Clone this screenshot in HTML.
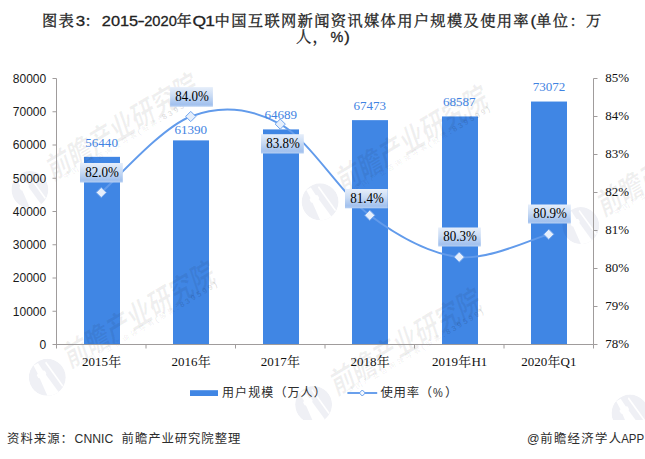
<!DOCTYPE html>
<html lang="zh-CN">
<head>
<meta charset="utf-8">
<title>图表3：2015-2020年Q1中国互联网新闻资讯媒体用户规模及使用率(单位：万人，%)</title>
<style>
html,body{margin:0;padding:0;background:#fff;}
body{width:645px;height:459px;overflow:hidden;font-family:"Liberation Sans",sans-serif;}
svg{display:block;}
</style>
</head>
<body>
<svg width="645" height="459" viewBox="0 0 645 459">
<defs>
<clipPath id="wmclip"><rect x="0" y="0" width="645" height="420"/></clipPath>
<linearGradient id="lb" x1="0" y1="0" x2="0" y2="1"><stop offset="0" stop-color="#e6eefa"/><stop offset="0.45" stop-color="#c9dbf4"/><stop offset="0.88" stop-color="#a2c1ee"/><stop offset="1" stop-color="#b6cff2"/></linearGradient>
<clipPath id="lc"><circle cx="-23.7" cy="13.3" r="18.5"/></clipPath>
<g id="wm"><path d="M-42.2 13.3 a18.5 18.5 0 1 0 37 0 a18.5 18.5 0 1 0 -37 0zM-37.5 1.6L-33.0 -1.0L-28.1 6.6L-26.2 6.7L-24.7 9.3L-25.1 10.7L-10.9 30.1L-21.6 36.3L-31.3 14.3L-32.7 13.9L-34.2 11.3L-33.3 9.6zM-25.9 -1.0L-24.9 -2.4L-7.7 21.4L-8.8 22.7z" fill="#1c2f75" fill-opacity="0.07" fill-rule="evenodd" clip-path="url(#lc)"/><g transform="rotate(-31)" fill="#000"><text x="4" y="0" font-family="'Liberation Sans', 'Noto Sans CJK SC', sans-serif" font-size="24.5" font-weight="bold" fill-opacity="0.058" transform="translate(-7.5 3.1) skewX(-12) scale(1 1.2)">前瞻产业研究院</text><g transform="translate(7.7 8.7)" fill-opacity="0.075"><text x="0.4" y="0" font-family="'Liberation Sans', 'Noto Sans CJK SC', sans-serif" font-size="7.2" letter-spacing="2.5">中国产业咨询领导者</text><text x="92.3" y="0" font-family="'Liberation Sans', 'Noto Sans CJK SC', sans-serif" font-size="7.2" letter-spacing="2.5">股票</text><text x="87" y="0" font-family="'Liberation Sans', sans-serif" font-size="7.5" fill-opacity="0.12">(</text><text x="111" y="0" font-family="'Liberation Sans', sans-serif" font-size="7.8" font-weight="bold" letter-spacing="2.3" fill-opacity="0.12">:839599)</text></g></g></g>
</defs>
<rect width="645" height="459" fill="#fff"/>
<g fill="#4086e4"><rect x="84" y="156.84" width="36" height="187.66"/><rect x="173" y="140.38" width="36" height="204.12"/><rect x="263" y="129.41" width="36" height="215.09"/><rect x="352" y="120.15" width="36" height="224.35"/><rect x="442" y="116.45" width="36" height="228.05"/><rect x="531" y="101.54" width="36" height="242.96"/></g>
<g clip-path="url(#wmclip)"><use href="#wm" x="53.6" y="176.3"/><use href="#wm" x="343.8" y="188.5"/><use href="#wm" x="71" y="364"/><use href="#wm" x="337.3" y="391.3"/><use href="#wm" x="604.5" y="212.3"/><use href="#wm" x="653.7" y="399.7"/></g>
<g stroke="#a09c9c" stroke-width="1" fill="none"><path d="M56.5 78.5 V348.5"/><path d="M52.5 344.5 H593.5"/><path d="M593.5 78.5 V344.5"/><path d="M52.5 78.50 h4M52.5 111.75 h4M52.5 145.00 h4M52.5 178.25 h4M52.5 211.50 h4M52.5 244.75 h4M52.5 278.00 h4M52.5 311.25 h4M593.5 78.50 h4M593.5 116.50 h4M593.5 154.50 h4M593.5 192.50 h4M593.5 230.50 h4M593.5 268.50 h4M593.5 306.50 h4M593.5 344.50 h4M146.00 344.5 v4M235.50 344.5 v4M325.00 344.5 v4M414.50 344.5 v4M504.00 344.5 v4M593.50 344.5 v4"/></g>
<g font-family="'Liberation Sans', sans-serif" font-size="12" fill="#1a1a1a" text-anchor="end"><text x="46.2" y="82.80" textLength="33.4" lengthAdjust="spacingAndGlyphs">80000</text><text x="46.2" y="116.05" textLength="33.4" lengthAdjust="spacingAndGlyphs">70000</text><text x="46.2" y="149.30" textLength="33.4" lengthAdjust="spacingAndGlyphs">60000</text><text x="46.2" y="182.55" textLength="33.4" lengthAdjust="spacingAndGlyphs">50000</text><text x="46.2" y="215.80" textLength="33.4" lengthAdjust="spacingAndGlyphs">40000</text><text x="46.2" y="249.05" textLength="33.4" lengthAdjust="spacingAndGlyphs">30000</text><text x="46.2" y="282.30" textLength="33.4" lengthAdjust="spacingAndGlyphs">20000</text><text x="46.2" y="315.55" textLength="33.4" lengthAdjust="spacingAndGlyphs">10000</text><text x="46.2" y="348.80">0</text></g>
<g font-family="'Liberation Serif', serif" font-size="13" fill="#111"><text x="605.3" y="82.40" textLength="23.8" lengthAdjust="spacingAndGlyphs">85%</text><text x="605.3" y="120.40" textLength="23.8" lengthAdjust="spacingAndGlyphs">84%</text><text x="605.3" y="158.40" textLength="23.8" lengthAdjust="spacingAndGlyphs">83%</text><text x="605.3" y="196.40" textLength="23.8" lengthAdjust="spacingAndGlyphs">82%</text><text x="605.3" y="234.40" textLength="23.8" lengthAdjust="spacingAndGlyphs">81%</text><text x="605.3" y="272.40" textLength="23.8" lengthAdjust="spacingAndGlyphs">80%</text><text x="605.3" y="310.40" textLength="23.8" lengthAdjust="spacingAndGlyphs">79%</text><text x="605.3" y="348.40" textLength="23.8" lengthAdjust="spacingAndGlyphs">78%</text></g>
<path d="M101.25 192.50C116.17 179.83 160.92 127.90 190.75 116.50C220.58 105.10 250.42 107.63 280.25 124.10C310.08 140.57 339.92 193.13 369.75 215.30C399.58 237.47 429.42 253.93 459.25 257.10C489.08 260.27 533.83 238.10 548.75 234.30" fill="none" stroke="#629beb" stroke-width="1.9" stroke-linecap="round" stroke-linejoin="round"/>
<g font-family="'Liberation Serif', serif" font-size="13.4" fill="#3f83e2" text-anchor="middle"><text x="101.6" y="146.6" textLength="32.7" lengthAdjust="spacingAndGlyphs">56440</text><text x="190.8" y="134.1" textLength="32.7" lengthAdjust="spacingAndGlyphs">61390</text><text x="280.8" y="118.5" textLength="32.7" lengthAdjust="spacingAndGlyphs">64689</text><text x="369.8" y="109.8" textLength="32.7" lengthAdjust="spacingAndGlyphs">67473</text><text x="459.3" y="105.5" textLength="32.7" lengthAdjust="spacingAndGlyphs">68587</text><text x="549.0" y="91.0" textLength="32.7" lengthAdjust="spacingAndGlyphs">73072</text></g>
<g fill="#e6effc" stroke="#6fa4ee" stroke-width="1"><path d="M101.25 187.40 l5.1 5.1 l-5.1 5.1 l-5.1 -5.1 z"/><path d="M190.75 111.40 l5.1 5.1 l-5.1 5.1 l-5.1 -5.1 z"/><path d="M280.25 119.00 l5.1 5.1 l-5.1 5.1 l-5.1 -5.1 z"/><path d="M369.75 210.20 l5.1 5.1 l-5.1 5.1 l-5.1 -5.1 z"/><path d="M459.25 252.00 l5.1 5.1 l-5.1 5.1 l-5.1 -5.1 z"/><path d="M548.75 229.20 l5.1 5.1 l-5.1 5.1 l-5.1 -5.1 z"/></g>
<rect x="80" y="163" width="42.8" height="19.5" fill="url(#lb)"/><rect x="170.1" y="87.1" width="42.8" height="19.6" fill="url(#lb)"/><rect x="261" y="134.2" width="42.8" height="19.3" fill="url(#lb)"/><rect x="345" y="189" width="42.8" height="19.3" fill="url(#lb)"/><rect x="438.2" y="227.5" width="42.6" height="19.0" fill="url(#lb)"/><rect x="528" y="204.5" width="42.8" height="19.0" fill="url(#lb)"/><g font-family="'Liberation Serif', serif" font-size="13.6" fill="#000"><text x="85.2" y="176.8" textLength="33.6" lengthAdjust="spacingAndGlyphs">82.0%</text><text x="175.3" y="100.9" textLength="33.6" lengthAdjust="spacingAndGlyphs">84.0%</text><text x="266.2" y="147.8" textLength="33.6" lengthAdjust="spacingAndGlyphs">83.8%</text><text x="350.2" y="202.7" textLength="33.6" lengthAdjust="spacingAndGlyphs">81.4%</text><text x="443.3" y="241.0" textLength="33.6" lengthAdjust="spacingAndGlyphs">80.3%</text><text x="533.2" y="218.0" textLength="33.6" lengthAdjust="spacingAndGlyphs">80.9%</text></g>
<g font-family="'Liberation Serif', 'Noto Serif CJK SC', serif" font-size="13" fill="#111"><text y="365.8"><tspan x="82.0" textLength="26" lengthAdjust="spacingAndGlyphs">2015</tspan><tspan x="108.2">年</tspan></text><text y="365.8"><tspan x="171.5" textLength="26" lengthAdjust="spacingAndGlyphs">2016</tspan><tspan x="197.7">年</tspan></text><text y="365.8"><tspan x="260.8" textLength="26" lengthAdjust="spacingAndGlyphs">2017</tspan><tspan x="287.0">年</tspan></text><text y="365.8"><tspan x="350.5" textLength="26" lengthAdjust="spacingAndGlyphs">2018</tspan><tspan x="376.7">年</tspan></text><text y="365.8"><tspan x="432.0" textLength="26" lengthAdjust="spacingAndGlyphs">2019</tspan><tspan x="458.2">年</tspan><tspan x="471.4" textLength="15.9" lengthAdjust="spacingAndGlyphs">H1</tspan></text><text y="365.8"><tspan x="521.2" textLength="26" lengthAdjust="spacingAndGlyphs">2020</tspan><tspan x="547.4">年</tspan><tspan x="560.6" textLength="15.9" lengthAdjust="spacingAndGlyphs">Q1</tspan></text></g>
<rect x="190" y="390.2" width="28" height="5.8" fill="#4086e4"/>
<text x="222" y="397.3" font-family="'Liberation Sans', 'Noto Sans CJK SC', sans-serif" font-size="12" fill="#2d2d2d" letter-spacing="1.1">用户规模（万人）</text>
<path d="M347.4 393 H377.2" stroke="#629beb" stroke-width="1.9" fill="none"/>
<path d="M362.3 390 l3 3 l-3 3 l-3 -3 z" fill="#f4f8fe" stroke="#629beb" stroke-width="1"/>
<text y="397.4" font-family="'Liberation Sans', 'Noto Sans CJK SC', sans-serif" font-size="12.4" fill="#2d2d2d"><tspan x="380.5" letter-spacing="0.7">使用率（</tspan><tspan x="433" textLength="9.8" lengthAdjust="spacingAndGlyphs">%</tspan><tspan x="445">）</tspan></text>
<text y="25.7" font-family="'Liberation Sans', 'Noto Serif CJK SC', serif" font-size="15.3" fill="#222" stroke="#222" stroke-width="0.3"><tspan x="42.0" letter-spacing="1.3">图表</tspan><tspan x="75.8" textLength="9.4" lengthAdjust="spacingAndGlyphs">3</tspan><tspan x="84.5">：</tspan><tspan x="101.8" textLength="36.4" lengthAdjust="spacingAndGlyphs">2015</tspan><tspan x="137.4" textLength="7.2" lengthAdjust="spacingAndGlyphs">-</tspan><tspan x="144.2" textLength="32.6" lengthAdjust="spacingAndGlyphs">2020</tspan><tspan x="176.4">年</tspan><tspan x="192.5" textLength="13.6" lengthAdjust="spacingAndGlyphs">Q</tspan><tspan x="205.3" textLength="9.7" lengthAdjust="spacingAndGlyphs">1</tspan><tspan x="214.6" letter-spacing="1.3">中国互联网新闻资讯媒体用户规模及使用率</tspan><tspan x="530.4" textLength="5.6" lengthAdjust="spacingAndGlyphs">(</tspan><tspan x="536.0" letter-spacing="1.4">单位：万</tspan></text>
<text y="41.6" font-family="'Liberation Sans', 'Noto Serif CJK SC', serif" font-size="15.3" fill="#222" stroke="#222" stroke-width="0.3"><tspan x="296.0" letter-spacing="1.3">人，</tspan><tspan x="330.6" textLength="12.8" lengthAdjust="spacingAndGlyphs">%</tspan><tspan x="344.3" textLength="5.6" lengthAdjust="spacingAndGlyphs">)</tspan></text>
<text y="442.8" font-family="'Liberation Sans', 'Noto Sans CJK SC', sans-serif" font-size="12.4" fill="#2d2d2d"><tspan x="7" letter-spacing="1">资料来源：</tspan><tspan x="74.6" textLength="38.6" lengthAdjust="spacingAndGlyphs">CNNIC</tspan><tspan x="121.6" letter-spacing="0.9">前瞻产业研究院整理</tspan></text>
<text y="442.8" font-family="'Liberation Sans', 'Noto Sans CJK SC', sans-serif" font-size="12.4" fill="#2d2d2d"><tspan x="527">@</tspan><tspan x="540.2" letter-spacing="1.3">前瞻经济学人</tspan><tspan x="621.2" textLength="23" lengthAdjust="spacingAndGlyphs">APP</tspan></text>
</svg>
</body>
</html>
